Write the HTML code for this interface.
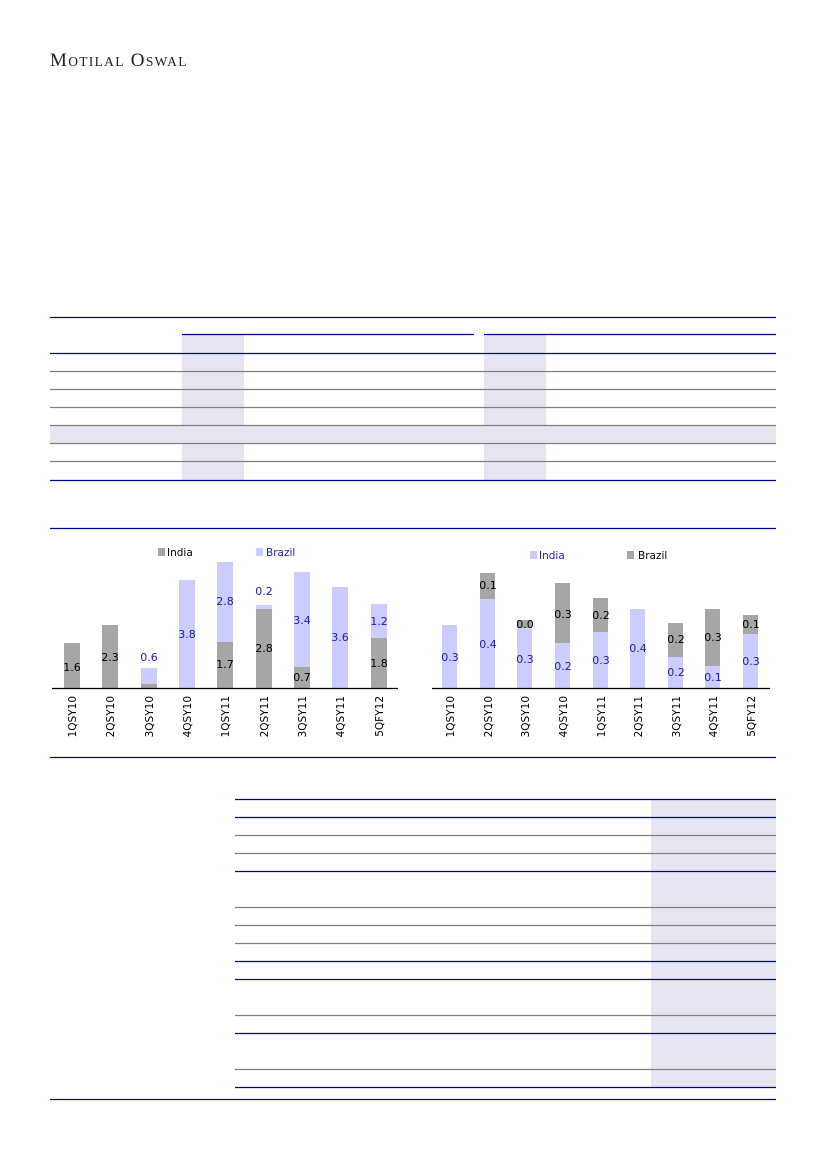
<!DOCTYPE html>
<html><head><meta charset="utf-8"><style>
html,body{margin:0;padding:0;background:#fff;}
svg{display:block}
</style></head><body>
<svg width="826" height="1169" viewBox="0 0 826 1169" xmlns="http://www.w3.org/2000/svg" font-family="DejaVu Sans, Verdana, sans-serif">
<text x="50" y="66" font-family="Liberation Serif, serif" font-size="19" fill="#222" letter-spacing="1.3">M<tspan font-size="13.5">OTILAL</tspan> O<tspan font-size="13.5">SWAL</tspan></text>

<!-- Table 1 -->
<g>
<rect x="182" y="334" width="62" height="146" fill="#e6e6f3"/>
<rect x="484" y="334" width="62" height="146" fill="#e6e6f3"/>
<rect x="50" y="425" width="726" height="18" fill="#e6e6f3"/>
<g stroke="#808080" stroke-width="1.2">
<line x1="50" y1="371.5" x2="776" y2="371.5"/><line x1="50" y1="389.5" x2="776" y2="389.5"/>
<line x1="50" y1="407.5" x2="776" y2="407.5"/><line x1="50" y1="425.5" x2="776" y2="425.5"/>
<line x1="50" y1="443.5" x2="776" y2="443.5"/><line x1="50" y1="461.5" x2="776" y2="461.5"/>
</g>
<g stroke="#00008f" stroke-width="1.3">
<line x1="50" y1="317.5" x2="776" y2="317.5"/>
<line x1="182" y1="334.5" x2="474" y2="334.5"/><line x1="484" y1="334.5" x2="776" y2="334.5"/>
<line x1="50" y1="353.5" x2="776" y2="353.5"/>
<line x1="50" y1="480.5" x2="776" y2="480.5"/>
<line x1="50" y1="528.5" x2="776" y2="528.5"/>
<line x1="50" y1="757.5" x2="776" y2="757.5"/>
</g>
</g>

<!-- Left chart -->
<g font-size="11">
<rect x="158" y="548" width="7" height="8" fill="#a6a6a6"/><text x="167" y="556" fill="#000" font-size="10.5">India</text>
<rect x="256" y="548" width="7" height="8" fill="#ccccff"/><text x="266" y="556" fill="#2020b0" font-size="10.5">Brazil</text>
<g>
<rect x="64" y="643" width="16" height="45" fill="#a6a6a6"/>
<rect x="102" y="625" width="16" height="63" fill="#a6a6a6"/>
<rect x="141" y="668" width="16" height="16" fill="#ccccff"/><rect x="141" y="684" width="16" height="4" fill="#a6a6a6"/>
<rect x="179" y="580" width="16" height="108" fill="#ccccff"/>
<rect x="217" y="562" width="16" height="80" fill="#ccccff"/><rect x="217" y="642" width="16" height="46" fill="#a6a6a6"/>
<rect x="256" y="605" width="16" height="4" fill="#ccccff"/><rect x="256" y="609" width="16" height="79" fill="#a6a6a6"/>
<rect x="294" y="572" width="16" height="95" fill="#ccccff"/><rect x="294" y="667" width="16" height="21" fill="#a6a6a6"/>
<rect x="332" y="587" width="16" height="101" fill="#ccccff"/>
<rect x="371" y="604" width="16" height="34" fill="#ccccff"/><rect x="371" y="638" width="16" height="50" fill="#a6a6a6"/>
</g>
<line x1="52" y1="688.5" x2="398" y2="688.5" stroke="#000" stroke-width="1.2"/>
<g text-anchor="middle">
<text x="72" y="671" fill="#000">1.6</text>
<text x="110" y="661" fill="#000">2.3</text>
<text x="149" y="661" fill="#2020b0">0.6</text>
<text x="187" y="638" fill="#2020b0">3.8</text>
<text x="225" y="605" fill="#2020b0">2.8</text><text x="225" y="668" fill="#000">1.7</text>
<text x="264" y="595" fill="#2020b0">0.2</text><text x="264" y="652" fill="#000">2.8</text>
<text x="302" y="624" fill="#2020b0">3.4</text><text x="302" y="681" fill="#000">0.7</text>
<text x="340" y="641" fill="#2020b0">3.6</text>
<text x="379" y="625" fill="#2020b0">1.2</text><text x="379" y="667" fill="#000">1.8</text>
</g>
<g font-size="10.5" fill="#000" text-anchor="end">
<text transform="translate(76,696) rotate(-90)">1QSY10</text>
<text transform="translate(114,696) rotate(-90)">2QSY10</text>
<text transform="translate(153,696) rotate(-90)">3QSY10</text>
<text transform="translate(191,696) rotate(-90)">4QSY10</text>
<text transform="translate(229,696) rotate(-90)">1QSY11</text>
<text transform="translate(268,696) rotate(-90)">2QSY11</text>
<text transform="translate(306,696) rotate(-90)">3QSY11</text>
<text transform="translate(344,696) rotate(-90)">4QSY11</text>
<text transform="translate(383,696) rotate(-90)">5QFY12</text>
</g>
</g>

<!-- Right chart -->
<g font-size="11">
<rect x="530" y="551" width="7" height="8" fill="#ccccff"/><text x="539" y="559" fill="#2020b0" font-size="10.5">India</text>
<rect x="627" y="551" width="7" height="8" fill="#a6a6a6"/><text x="638" y="559" fill="#000" font-size="10.5">Brazil</text>
<g>
<rect x="442" y="625" width="15" height="63" fill="#ccccff"/>
<rect x="480" y="573" width="15" height="26" fill="#a6a6a6"/><rect x="480" y="599" width="15" height="89" fill="#ccccff"/>
<rect x="517" y="620" width="15" height="8" fill="#a6a6a6"/><rect x="517" y="628" width="15" height="60" fill="#ccccff"/>
<rect x="555" y="583" width="15" height="60" fill="#a6a6a6"/><rect x="555" y="643" width="15" height="45" fill="#ccccff"/>
<rect x="593" y="598" width="15" height="34" fill="#a6a6a6"/><rect x="593" y="632" width="15" height="56" fill="#ccccff"/>
<rect x="630" y="609" width="15" height="79" fill="#ccccff"/>
<rect x="668" y="623" width="15" height="34" fill="#a6a6a6"/><rect x="668" y="657" width="15" height="31" fill="#ccccff"/>
<rect x="705" y="609" width="15" height="57" fill="#a6a6a6"/><rect x="705" y="666" width="15" height="22" fill="#ccccff"/>
<rect x="743" y="615" width="15" height="19" fill="#a6a6a6"/><rect x="743" y="634" width="15" height="54" fill="#ccccff"/>
</g>
<line x1="432" y1="688.5" x2="770" y2="688.5" stroke="#000" stroke-width="1.2"/>
<g text-anchor="middle">
<text x="450" y="661" fill="#2020b0">0.3</text>
<text x="488" y="648" fill="#2020b0">0.4</text><text x="488" y="589" fill="#000">0.1</text>
<text x="525" y="663" fill="#2020b0">0.3</text><text x="525" y="628" fill="#000">0.0</text>
<text x="563" y="670" fill="#2020b0">0.2</text><text x="563" y="618" fill="#000">0.3</text>
<text x="601" y="664" fill="#2020b0">0.3</text><text x="601" y="619" fill="#000">0.2</text>
<text x="638" y="652" fill="#2020b0">0.4</text>
<text x="676" y="676" fill="#2020b0">0.2</text><text x="676" y="643" fill="#000">0.2</text>
<text x="713" y="681" fill="#2020b0">0.1</text><text x="713" y="641" fill="#000">0.3</text>
<text x="751" y="665" fill="#2020b0">0.3</text><text x="751" y="628" fill="#000">0.1</text>
</g>
<g font-size="10.5" fill="#000" text-anchor="end">
<text transform="translate(454,696) rotate(-90)">1QSY10</text>
<text transform="translate(492,696) rotate(-90)">2QSY10</text>
<text transform="translate(529,696) rotate(-90)">3QSY10</text>
<text transform="translate(567,696) rotate(-90)">4QSY10</text>
<text transform="translate(605,696) rotate(-90)">1QSY11</text>
<text transform="translate(642,696) rotate(-90)">2QSY11</text>
<text transform="translate(680,696) rotate(-90)">3QSY11</text>
<text transform="translate(717,696) rotate(-90)">4QSY11</text>
<text transform="translate(755,696) rotate(-90)">5QFY12</text>
</g>
</g>

<!-- Table 2 -->
<g>
<rect x="651" y="799" width="125" height="288" fill="#e6e6f3"/>
<g stroke="#808080" stroke-width="1.2">
<line x1="235" y1="835.5" x2="776" y2="835.5"/><line x1="235" y1="853.5" x2="776" y2="853.5"/>
<line x1="235" y1="907.5" x2="776" y2="907.5"/><line x1="235" y1="925.5" x2="776" y2="925.5"/>
<line x1="235" y1="943.5" x2="776" y2="943.5"/><line x1="235" y1="1015.5" x2="776" y2="1015.5"/>
<line x1="235" y1="1069.5" x2="776" y2="1069.5"/>
</g>
<g stroke="#00008f" stroke-width="1.3">
<line x1="235" y1="799.5" x2="776" y2="799.5"/><line x1="235" y1="817.5" x2="776" y2="817.5"/>
<line x1="235" y1="871.5" x2="776" y2="871.5"/><line x1="235" y1="961.5" x2="776" y2="961.5"/>
<line x1="235" y1="979.5" x2="776" y2="979.5"/><line x1="235" y1="1033.5" x2="776" y2="1033.5"/>
<line x1="235" y1="1087.5" x2="776" y2="1087.5"/>
<line x1="50" y1="1099.5" x2="776" y2="1099.5"/>
</g>
</g>
</svg>
</body></html>
